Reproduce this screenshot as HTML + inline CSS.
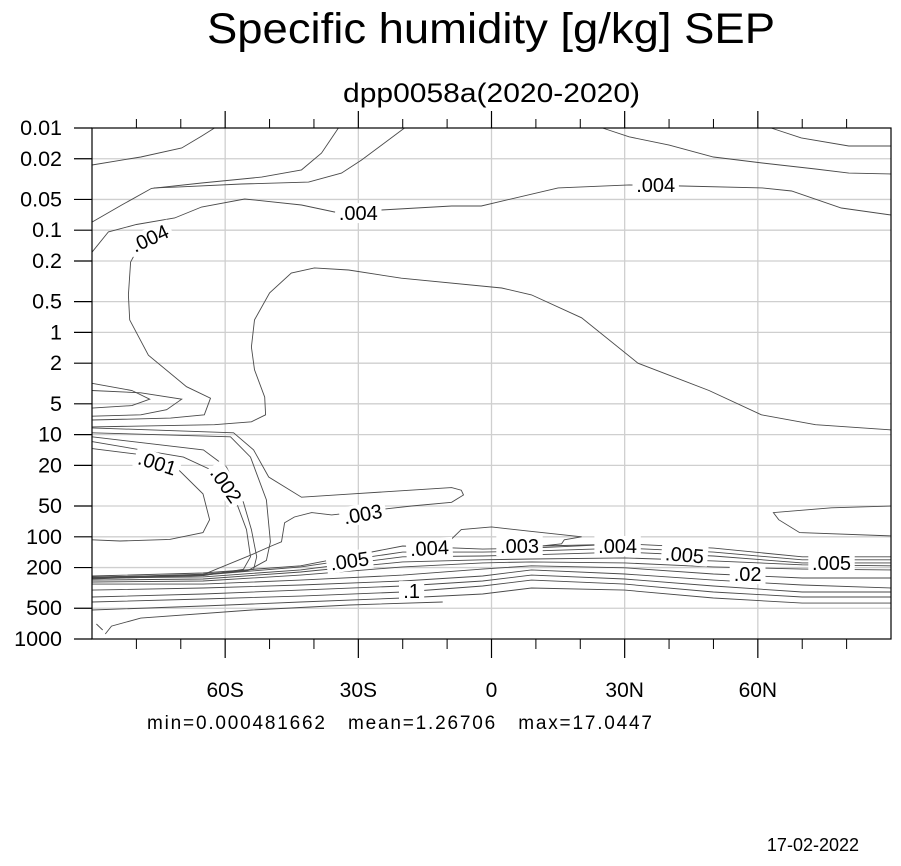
<!DOCTYPE html>
<html><head><meta charset="utf-8"><style>
html,body{margin:0;padding:0;background:#fff;}
body{width:901px;height:861px;overflow:hidden;position:relative;font-family:"Liberation Sans",sans-serif;}
</style></head><body>
<svg id="chart" width="901" height="861" viewBox="0 0 901 861" xmlns="http://www.w3.org/2000/svg" font-family="Liberation Sans, sans-serif">
<text x="207" y="43" font-size="43" textLength="568" lengthAdjust="spacingAndGlyphs" fill="#000">Specific humidity [g/kg] SEP</text>
<text x="343" y="102" font-size="27" textLength="297" lengthAdjust="spacingAndGlyphs" fill="#000">dpp0058a(2020-2020)</text>
<g id="grid"></g>
<g id="contours"></g>
<g id="labels"></g>
<rect x="92" y="128" width="799" height="511" fill="none" stroke="#000" stroke-width="1.2"/>
<g id="axes"></g>
<text x="147" y="729" font-size="19" textLength="505" lengthAdjust="spacing" style="white-space:pre" fill="#000">min=0.000481662   mean=1.26706   max=17.0447</text>
<text x="859" y="851" font-size="18" text-anchor="end" fill="#000">17-02-2022</text>
</svg>
<script>
const yTicks = [0.01,0.02,0.05,0.1,0.2,0.5,1,2,5,10,20,50,100,200,500,1000];
const yTickLabels = ["0.01","0.02","0.05","0.1","0.2","0.5","1","2","5","10","20","50","100","200","500","1000"];
const xTicks = [-60,-30,0,30,60];
const xTickLabels = ["60S","30S","0","30N","60N"];
const xMinor = [-80,-70,-50,-40,-20,-10,10,20,40,50,70,80];

const lineL1 = [[-90,.023],[-79,.0192],[-69.8,.0157],[-65.3,.012],[-62.4,.01]];
const lineL2 = [[-90,.0833],[-83.3,.0567],[-76.6,.039],[-65.3,.0345],[-51.8,.0302],[-42.8,.0257],[-38.3,.0176],[-34.5,.01]];
const lineL3 = [[-76.1,.0386],[-70.3,.0377],[-56.3,.0353],[-41.2,.0338],[-33.8,.0276],[-29.3,.0206],[-19.6,.01]];
const lineL4 = [[-90,.164],[-86.3,.104],[-80,.088],[-71.4,.076],[-65.3,.0593],[-55.6,.0495],[-42.8,.0567],[-35.4,.0663],[-24.8,.0634],[-9,.058],[-2.3,.058],[15,.0386],[31,.036],[43,.0369],[61,.0386],[67.6,.0413],[78.8,.0606],[90,.071]];
const lineL5 = [[25,.01],[31,.0122],[40,.0147],[50,.0192],[61,.022],[73,.0252],[80.5,.0276],[90,.0282]];
const lineL6 = [[63,.01],[69.8,.0125],[80.5,.015],[90,.015]];
const loop1 = [[-90,3.15],[-81,3.7],[-77,4.5],[-81,5.2],[-90,5.5]];
const loop2 = [[-90,3.7],[-79,3.9],[-69.8,4.5],[-73.2,5.7],[-79,6.4],[-90,6.6]];
const lineL7 = [[-90,7.2],[-72.3,6.9],[-64.7,6.4],[-63.3,4.4],[-68.7,3.4],[-77.3,1.67],[-81.5,0.754],[-81.8,0.43],[-81.3,0.205],[-80,0.16]];
const lineL8 = [[90,9],[73,8],[60.8,6.4],[49,3.7],[33,2.0],[20.3,0.72],[9,0.43],[2.3,0.368],[-20.3,0.295],[-32.2,0.245],[-39.9,0.234],[-45.1,0.262],[-50,0.411],[-53.4,0.754],[-54.1,1.39],[-53.4,2.32],[-51.1,4.3],[-50.9,6.4],[-54.1,7.5],[-62.4,8.0],[-90,8.4]];
const lineL9 = [[-90,8.6],[-58.1,9.6],[-53.6,14.1],[-50.2,26],[-42.8,41],[-31.5,38],[-9,33],[-6.8,35],[-6.3,39],[-9,46],[-18,50],[-36,61],[-40.5,58],[-44.4,64],[-46.6,73],[-47.3,112],[-49.6,123],[-54.1,150],[-65,235],[-90,250]];
const lineL10 = [[-90,11.7],[-69.4,16.6],[-63.3,22],[-57.4,47],[-55.2,85],[-54.3,157],[-55.9,208],[-65,240],[-90,258]];
const lineL11 = [[-90,10.5],[-64.9,14.1],[-59.7,20.8],[-55.9,46],[-54.1,85],[-52.9,157],[-53.6,208],[-65,237],[-90,255]];
const lineL12 = [[-90,9.6],[-58.8,10.5],[-54.3,16.6],[-50.7,43.5],[-49.8,112],[-50.7,170],[-55,215],[-65,232],[-90,250]];
const lineL13 = [[-90,13.7],[-79.6,15.6],[-71,21],[-65,38],[-63.5,68],[-65,91],[-72.5,106],[-83.7,110],[-90,107]];
const lineL15 = [[-10.6,123],[-6.8,85],[0,80],[8.3,88],[20.3,100],[16.4,107],[15.8,117],[11.3,123],[30,118]];
const lineL16 = [[90,50],[76.6,52],[63.5,58],[64.7,68],[69.4,91],[90,98]];
const hookA = [[-89,713],[-87.6,817]];
const hookB = [[-87,893],[-85.6,747],[-79,624],[-54,520],[-32,465],[-11,434]];
const bottomSeg = [[-82,1000],[-76,1000]];

const bandLats = [-90,-65,-43,-20,-2,9,30,50,70,90];
const bandU1 = [242,226,192,123,132,129,117,129,157,157];
const bandU2 = [247,237,197,141,141,138,129,141,168,168];
const bandU3 = [253,247,211,157,154,150,141,154,180,180];
const bandU4 = [265,259,221,176,168,165,161,172,188,192];
const bandU5 = [277,271,237,197,180,176,180,197,207,211];
const bandU6 = [290,290,265,237,207,192,201,231,253,253];
const bandU7 = [332,317,296,271,242,211,231,265,296,317];
const bandU8 = [388,363,332,303,271,237,259,303,347,347];
const bandU9 = [434,406,380,347,303,265,290,347,388,388];
const bandU10 = [520,475,434,397,363,317,332,397,445,445];

const labelText = [".004",".004",".004",".001",".002",".003",".005",".004",".003",".004",".005",".02",".005",".1"];
const labelLat = [-77,-30,37,-75.3,-59.8,-29,-32,-14,6.3,28.4,43.5,57.7,76.6,-18];
const labelP = [0.12,0.068,0.036,19,31,60,172,129,123,123,150,232,180,340];
const labelAngle = [-25,0,0,18,55,-10,-8,-3,0,0,5,0,0,0];

const X0=92, X1=891, Y0=128, Y1=639;
function xs(lat){return X0+(lat+90)/180*(X1-X0);}
function ys(p){return Y0+Math.log10(p/0.01)/5*(Y1-Y0);}
const NS="http://www.w3.org/2000/svg";
function mk(tag,parent,attrs){const e=document.createElementNS(NS,tag);for(const k in attrs)e.setAttribute(k,attrs[k]);parent.appendChild(e);return e;}

const grid=document.getElementById('grid');
yTicks.forEach((p,i)=>{
  if(i===0||i===yTicks.length-1) return;
  const l=mk('line',grid,{x1:X0,x2:X1,y1:ys(p),y2:ys(p),stroke:'#cfcfcf','stroke-width':1.3});
  
  
});
xTicks.forEach(lat=>{
  const l=mk('line',grid,{x1:xs(lat),x2:xs(lat),y1:Y0,y2:Y1,stroke:'#cfcfcf','stroke-width':1.3});
  
  
});

const cg=document.getElementById('contours');
function drawLine(pts,name){
  const d=pts.map((q,i)=>(i?'L':'M')+xs(q[0]).toFixed(1)+','+ys(q[1]).toFixed(1)).join(' ');
  const e=mk('path',cg,{d:d,fill:'none',stroke:'#4a4a4a','stroke-width':0.9});
  
  
}
[[lineL1,'contour-top-left'],[lineL2,'contour-upper-1'],[lineL3,'contour-upper-2'],[lineL4,'contour-004-upper'],[lineL5,'contour-top-right-1'],[lineL6,'contour-top-right-2'],[loop1,'contour-loop-inner'],[loop2,'contour-loop-middle'],[lineL7,'contour-loop-outer'],[lineL8,'contour-big-region'],[lineL9,'contour-003'],[lineL10,'contour-002'],[lineL11,'contour-002b'],[lineL12,'contour-002c'],[lineL13,'contour-001'],[lineL15,'contour-equator-tongue'],[lineL16,'contour-right-loop'],[hookA,'contour-hook-a'],[hookB,'contour-hook-b'],[bottomSeg,'contour-bottom-segment']].forEach(a=>drawLine(a[0],a[1]));
[bandU1,bandU2,bandU3,bandU4,bandU5,bandU6,bandU7,bandU8,bandU9,bandU10].forEach(arr=>{
  drawLine(bandLats.map((lat,i)=>[lat,arr[i]]),'contour-tropopause-band');
});

const lg=document.getElementById('labels');
labelText.forEach((t,i)=>{
  const x=xs(labelLat[i]), y=ys(labelP[i]);
  const g=mk('g',lg,{transform:`translate(${x.toFixed(1)},${y.toFixed(1)}) rotate(${labelAngle[i]})`});
  
  
  const w=t.length*10.6+4;
  mk('rect',g,{x:-w/2,y:-10,width:w,height:20,fill:'#fff'});
  const tx=mk('text',g,{x:0,y:7,'font-size':20,'text-anchor':'middle',fill:'#000'});
  tx.textContent=t;
});

const ax=document.getElementById('axes');
yTicks.forEach((p,i)=>{
  const y=ys(p);
  const l=mk('line',ax,{x1:X0-18,x2:X0,y1:y,y2:y,stroke:'#000','stroke-width':1.2});
  
  
  const t=mk('text',ax,{x:62,y:y+7,'font-size':21.5,'text-anchor':'end',fill:'#000'});
  
  
  t.textContent=yTickLabels[i];
});
xTicks.forEach((lat,i)=>{
  const x=xs(lat);
  const a=mk('line',ax,{x1:x,x2:x,y1:Y1,y2:Y1+19,stroke:'#000','stroke-width':1.2});
  
  
  const b=mk('line',ax,{x1:x,x2:x,y1:Y0-17,y2:Y0,stroke:'#000','stroke-width':1.2});
  
  
  const t=mk('text',ax,{x:x,y:697,'font-size':21,'text-anchor':'middle',fill:'#000'});
  
  
  t.textContent=xTickLabels[i];
});
xMinor.forEach(lat=>{
  const x=xs(lat);
  const a=mk('line',ax,{x1:x,x2:x,y1:Y1,y2:Y1+10,stroke:'#000','stroke-width':1});
  
  
  const b=mk('line',ax,{x1:x,x2:x,y1:Y0-9,y2:Y0,stroke:'#000','stroke-width':1});
  
  
});
</script>
</body></html>
